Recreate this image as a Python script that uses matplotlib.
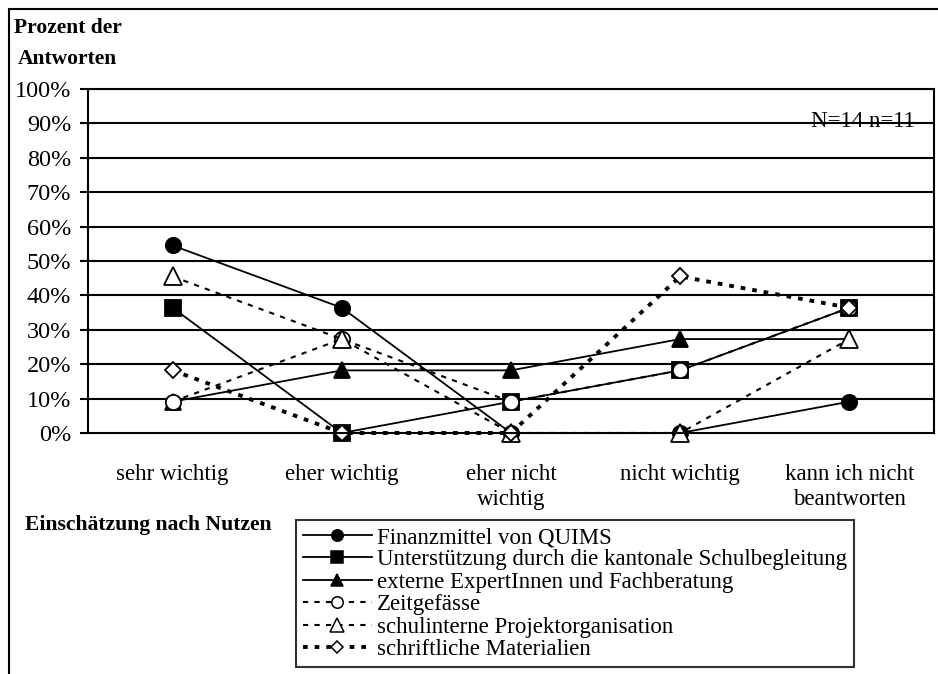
import numpy as np
import matplotlib.pyplot as plt
from matplotlib.lines import Line2D

plt.rcParams['font.family'] = ['Liberation Serif', 'DejaVu Serif']

# Kategorien und Anteile (n=11, Angaben in Prozent)
kategorien = ['sehr wichtig', 'eher wichtig', 'eher nicht\nwichtig', 'nicht wichtig',
              'kann ich nicht\nbeantworten']
finanzmittel = [54.5, 36.4, 0.0, 0.0, 9.1]
unterstuetzung = [36.4, 0.0, 9.1, 18.2, 36.4]
experten = [9.1, 18.2, 18.2, 27.3, 27.3]
zeitgefaesse = [9.1, 27.3, 9.1, 18.2, 36.4]
projektorg = [45.5, 27.3, 0.0, 0.0, 27.3]
materialien = [18.2, 0.0, 0.0, 45.5, 36.4]

namen = ['Finanzmittel von QUIMS',
         'Unterstützung durch die kantonale Schulbegleitung',
         'externe ExpertInnen und Fachberatung',
         'Zeitgefässe',
         'schulinterne Projektorganisation',
         'schriftliche Materialien']
werte = [finanzmittel, unterstuetzung, experten, zeitgefaesse, projektorg, materialien]

stile = [
    dict(ls='-', lw=1.3, marker='o', ms=11, mfc='black'),
    dict(ls='-', lw=1.3, marker='s', ms=12, mfc='black'),
    dict(ls='-', lw=1.3, marker='^', ms=12, mfc='black'),
    dict(ls=(0, (2.5, 3)), lw=1.5, marker='o', ms=11, mfc='white'),
    dict(ls=(0, (2.5, 3)), lw=1.5, marker='^', ms=13, mfc='white'),
    dict(ls=(0, (1.2, 1.8)), lw=2.8, marker='D', ms=8, mfc='white'),
]

fig = plt.figure(figsize=(9.38, 6.74), dpi=100)
ax = fig.add_axes([0.0938, 0.3576, 0.9019, 0.5104])

x = np.arange(len(kategorien))
for name, y, st in zip(namen, werte, stile):
    ax.plot(x, y, color='black', mec='black', mew=1.3, label=name, clip_on=False, **st)

ax.set_xlim(-0.5, 4.5)
ax.set_ylim(0, 100)
ax.set_yticks(np.arange(0, 101, 10))
ax.set_yticklabels([f'{v}%' for v in range(0, 101, 10)], fontsize=17.5)
ax.set_xticks(x)
ax.set_xticklabels(kategorien, fontsize=16.5, linespacing=1.3)
ax.tick_params(axis='x', length=0, pad=22)
ax.tick_params(axis='y', length=6, width=1.5, pad=6, direction='out')
for v in range(10, 101, 10):
    ax.axhline(v, color='black', lw=1.5, zorder=0)
for s in ax.spines.values():
    s.set_linewidth(1.5)

ax.text(0.977, 0.905, 'N=14 n=11', transform=ax.transAxes, ha='right', va='center',
        fontsize=16.5)

# Beschriftungen ausserhalb der Achsen
fig.text(0.072, 0.935, 'Prozent der\nAntworten', ha='center', va='center', fontsize=15.5,
         fontweight='bold', linespacing=1.75, multialignment='center')
fig.text(0.027, 0.221, 'Einschätzung nach Nutzen', ha='left', va='center', fontsize=15.6,
         fontweight='bold')

# Rahmen links und oben
fig.add_artist(Line2D([0.0096, 0.0096], [0.0, 0.9866], color='black', lw=1.5,
                      transform=fig.transFigure))
fig.add_artist(Line2D([0.0096, 1.0], [0.9866, 0.9866], color='black', lw=1.5,
                      transform=fig.transFigure))

# Legende mit kleineren Symbolen
griffe = []
for name, st in zip(namen, stile):
    st2 = dict(st)
    st2['ms'] = st['ms'] * 0.75
    st2['lw'] = 1.3 if st['ls'] == '-' else st['lw']
    griffe.append(Line2D([], [], color='black', mec='black', mew=1.1, **st2))
leg = fig.legend(griffe, namen, loc='lower left', bbox_to_anchor=(0.3156, 0.0104),
                 frameon=True, fancybox=False, edgecolor='black', fontsize=16.5,
                 handlelength=3.0, handletextpad=0.25, labelspacing=0.06,
                 borderpad=0.3, borderaxespad=0)
leg.get_frame().set_linewidth(1.5)

fig.savefig('out.png', dpi=100)
